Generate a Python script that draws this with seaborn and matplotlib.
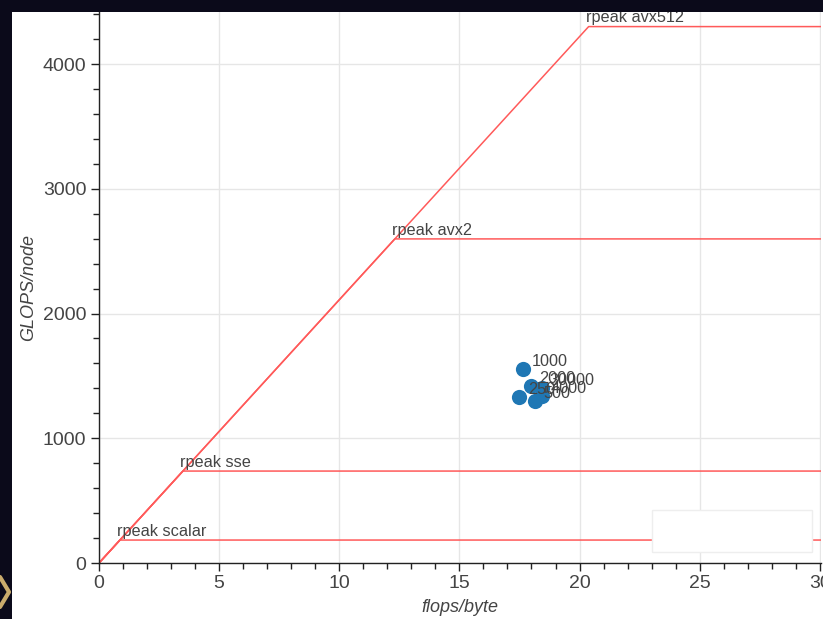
import matplotlib
matplotlib.use("Agg")
import matplotlib.pyplot as plt
import seaborn as sns
import pandas as pd
from matplotlib.patches import Rectangle
from matplotlib.ticker import MultipleLocator
from matplotlib.lines import Line2D

# roofline parameters
bandwidth = 211.0  # GB/s per node
peak_names = ["scalar", "sse", "avx2", "avx512"]
peak_values = [184, 737, 2598, 4300]
x_max = 30.0

# measured points
point_x = [17.66, 17.98, 18.42, 17.50, 18.15, 18.45]
point_y = [1555, 1418, 1405, 1330, 1300, 1340]
point_labels = ["1000", "2000", "30000", "250", "500", "4000"]

sns.set_theme(style="white")
plt.rcParams["font.family"] = ["Liberation Sans", "DejaVu Sans"]

BG = "#0b0a1a"
TXT = "#444444"
ROOF = "#ff5a5a"

fig = plt.figure(figsize=(8.23, 6.19), dpi=100, facecolor=BG)
W, H = 823.0, 619.0

# white page area of the screenshot
fig.patches.append(Rectangle((12 / W, 0), 1, (H - 12) / H, transform=fig.transFigure,
                             facecolor="white", edgecolor="none", zorder=-5))

ax = fig.add_axes([99 / W, (H - 563) / H, (821 - 99) / W, (563 - 12) / H])
ax.set_facecolor("white")

rows = []
for name, peak in zip(peak_names, peak_values):
    ridge = peak / bandwidth
    for x, y in [(0, 0), (ridge, peak), (x_max + 1, peak)]:
        rows.append({"roof": name, "x": x, "y": y})
roofs = pd.DataFrame(rows)

sns.lineplot(data=roofs, x="x", y="y", units="roof", estimator=None, sort=False,
             color=ROOF, lw=1.1, ax=ax, zorder=2)

for name, peak in zip(peak_names, peak_values):
    ax.annotate("rpeak " + name, (peak / bandwidth, peak), xytext=(-2, 3),
                textcoords="offset points", ha="left", va="baseline",
                fontsize=11.7, color=TXT, annotation_clip=False, clip_on=False)

pts = pd.DataFrame({"x": point_x, "y": point_y, "label": point_labels})
sns.scatterplot(data=pts, x="x", y="y", s=120, color="#1f77b4", edgecolor="#1f77b4",
                linewidth=0, ax=ax, zorder=3)
for x, y, lab in zip(point_x, point_y, point_labels):
    ax.annotate(lab, (x, y), xytext=(6, 2), textcoords="offset points",
                ha="left", va="baseline", fontsize=11.7, color=TXT, zorder=4)

# empty legend box
ax.add_patch(Rectangle((652 / W, (H - 552) / H), (812 - 652) / W, (552 - 510) / H,
                       transform=fig.transFigure, facecolor="white",
                       edgecolor="#eeeeee", lw=1, zorder=5))

ax.set_xlim(0, 30.05)
ax.set_ylim(0, 4417)
ax.xaxis.set_major_locator(MultipleLocator(5))
ax.xaxis.set_minor_locator(MultipleLocator(1))
ax.yaxis.set_major_locator(MultipleLocator(1000))
ax.yaxis.set_minor_locator(MultipleLocator(200))
ax.grid(True, which="major", color="#e6e6e6", lw=1)
ax.set_axisbelow(True)

for s in ["top", "right"]:
    ax.spines[s].set_visible(False)
for s in ["left", "bottom"]:
    ax.spines[s].set_color("#222222")
    ax.spines[s].set_linewidth(1)
ax.tick_params(which="major", direction="out", length=6, width=1, color="#222222",
               labelsize=14, labelcolor=TXT, left=True, bottom=True, pad=3)
ax.tick_params(which="minor", direction="out", length=4, width=1, color="#222222",
               left=True, bottom=True)

ax.set_xlabel("flops/byte", fontsize=13, fontstyle="italic", color=TXT, labelpad=5)
ax.set_ylabel("GLOPS/node", fontsize=13, fontstyle="italic", color=TXT, labelpad=4)

# dark top band of the screenshot covers clipped label
fig.patches.append(Rectangle((0, (H - 12) / H), 1, 12 / H, transform=fig.transFigure,
                             facecolor=BG, edgecolor="none", zorder=10))
# gold frame corner at bottom left
fig.lines.append(Line2D([0 / W, 9 / W, 0 / W], [(H - 577) / H, (H - 592) / H, (H - 607) / H],
                        transform=fig.transFigure, color="#c9ab6c", lw=3, zorder=11))

fig.savefig("out.png", dpi=100, facecolor=BG)
